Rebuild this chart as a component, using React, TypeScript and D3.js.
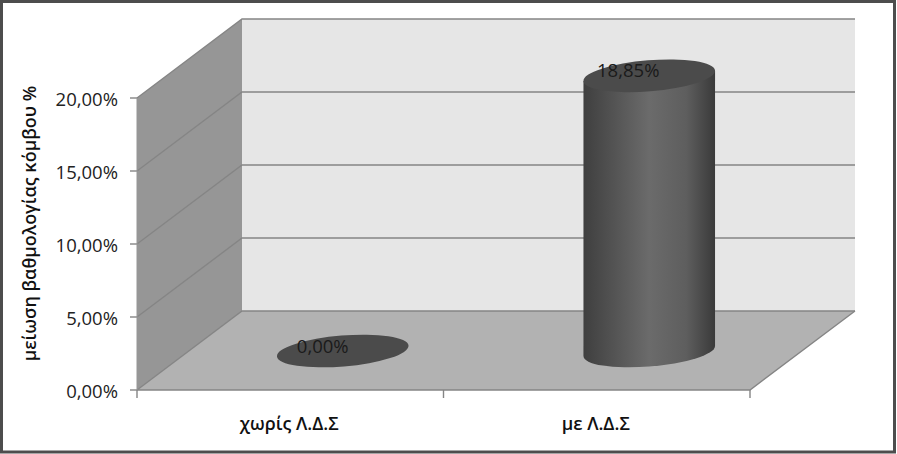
import React from "react";
import * as d3 from "d3";

const categories = ["χωρίς Λ.Δ.Σ", "με Λ.Δ.Σ"];
const values = [0, 18.85];
const valueLabels = ["0,00%", "18,85%"];
const yTicks = [0, 5, 10, 15, 20];
const yTickLabels = ["0,00%", "5,00%", "10,00%", "15,00%", "20,00%"];
const yTitle = "μείωση βαθμολογίας κόμβου %";

const W = 897;
const H = 454;
const FONT = "'Open Sans','Noto Sans',sans-serif";

const x = d3.scaleBand<string>().domain(categories).range([137, 750]);
const y = d3.scaleLinear().domain([0, 20]).range([390, 98]);
const DX = 105;
const DY = -79;
const line = d3.line<[number, number]>();

const A = 66;
const B = 15.5;
const TILT = -4.7;
const TH = (TILT * Math.PI) / 180;
const halfW = Math.sqrt(A * A * Math.cos(TH) ** 2 + B * B * Math.sin(TH) ** 2);
const tanY = ((A * A - B * B) * Math.sin(TH) * Math.cos(TH)) / halfW;

function Cylinder({ cat, v, label }: { cat: string; v: number; label: string }) {
  const cx = x(cat)! + x.bandwidth() / 2 + DX / 2;
  const base = y(0) + DY / 2 + 0.5;
  const top = y(v) + DY / 2 + 0.5;
  const rot = (yc: number) => `rotate(${TILT} ${cx} ${yc})`;
  const lx = cx - halfW;
  const rx = cx + halfW;
  const body = `M${lx},${top - tanY}L${lx},${base - tanY}A${A},${B} ${TILT} 0 0 ${rx},${base + tanY}L${rx},${top + tanY}Z`;
  return (
    <g>
      {v > 0 && <path d={body} fill="url(#cylBody)" />}
      <ellipse cx={cx} cy={top} rx={A} ry={B} transform={rot(top)} fill="#4b4b4b" />
      <text x={cx + (v > 0 ? -21 : -20)} y={top + (v > 0 ? -4 : -3)} textAnchor="middle" dominantBaseline="middle" fontFamily={FONT} fontSize={18.5} fill="#1a1a1a">
        {label}
      </text>
    </g>
  );
}

export default function App() {
  const [x0, x1] = x.range();
  const yb = y(0);
  const yt = y(20);
  return (
    <svg width={W} height={H} style={{ position: "absolute", left: 0, top: 0 }}>
      <defs>
        <linearGradient id="cylBody" x1="0" x2="1" y1="0" y2="0">
          <stop offset="0" stopColor="#3f3f3f" />
          <stop offset="0.5" stopColor="#6b6b6b" />
          <stop offset="0.78" stopColor="#5e5e5e" />
          <stop offset="1" stopColor="#3a3a3a" />
        </linearGradient>
      </defs>
      <rect x={0} y={0} width={W} height={H} fill="#fff" />
      <rect x={1.5} y={1.5} width={W - 4} height={H - 3.5} fill="#fff" stroke="#4d4d4d" strokeWidth={3} />

      <rect x={x0 + DX} y={yt + DY} width={x1 - x0} height={yb - yt} fill="#e6e6e6" />
      <path d={line([[x0, yb], [x0 + DX, yb + DY], [x0 + DX, yt + DY], [x0, yt]])! + "Z"} fill="#969696" />
      <path d={line([[x0, yb], [x1, yb], [x1 + DX, yb + DY], [x0 + DX, yb + DY]])! + "Z"} fill="#b2b2b2" />

      {yTicks.map((t) => (
        <g key={t} stroke="#858585" strokeWidth={1.4} fill="none">
          <path d={line([[x0, y(t)], [x0 + DX, y(t) + DY], [x1 + DX, y(t) + DY]])!} />
          <path d={line([[x0 - 7, y(t)], [x0, y(t)]])!} />
        </g>
      ))}
      <path d={line([[x0, yb], [x1, yb], [x1 + DX, yb + DY]])!} stroke="#858585" strokeWidth={1.4} fill="none" />
      <path d={line([[x0, yb], [x0, yt]])!} stroke="#969696" fill="none" />
      {[x0, x0 + x.bandwidth(), x1].map((tx) => (
        <path key={tx} d={line([[tx, yb], [tx, yb + 8]])!} stroke="#858585" strokeWidth={1.4} fill="none" />
      ))}

      {categories.map((c, i) => (
        <Cylinder key={c} cat={c} v={values[i]} label={valueLabels[i]} />
      ))}

      {yTicks.map((t, i) => (
        <text key={t} x={118} y={y(t) + 3} textAnchor="end" dominantBaseline="middle" fontFamily={FONT} fontSize={18.5} fill="#222">
          {yTickLabels[i]}
        </text>
      ))}
      {categories.map((c) => (
        <text key={c} x={x(c)! + x.bandwidth() / 2 - 1} y={425} textAnchor="middle" dominantBaseline="middle" fontFamily={FONT} fontSize={18} fontWeight={600} fill="#111">
          {c}
        </text>
      ))}
      <text transform="translate(31 223.5) rotate(-90)" textAnchor="middle" dominantBaseline="middle" fontFamily={FONT} fontSize={18} fontWeight={600} fill="#111">
        {yTitle}
      </text>
    </svg>
  );
}
